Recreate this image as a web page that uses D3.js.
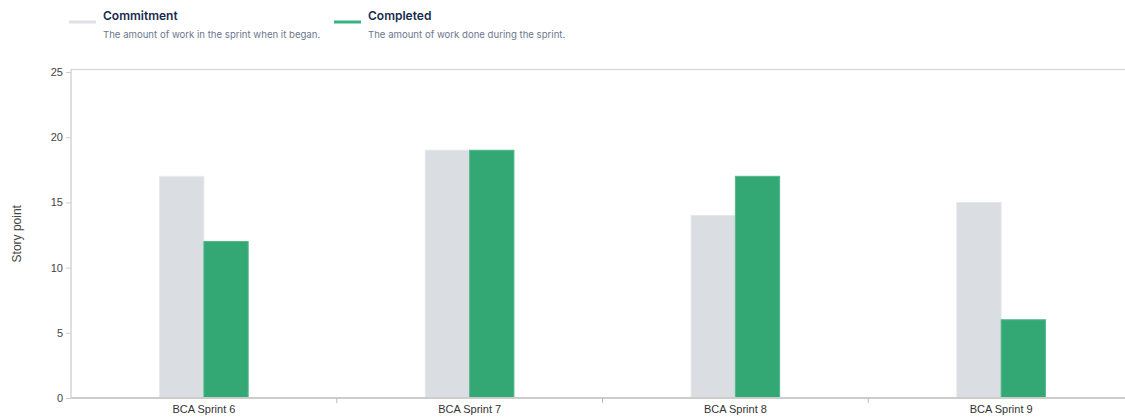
<!DOCTYPE html>
<html><head><meta charset="utf-8">
<script src="https://cdn.jsdelivr.net/npm/d3@7"></script>
<style>
body{margin:0;background:#fff;}
svg{display:block;}
</style></head>
<body>
<svg id="c" width="1125" height="419"></svg>
<script>
const categories = ["BCA Sprint 6","BCA Sprint 7","BCA Sprint 8","BCA Sprint 9"];
const commitment = [17,19,14,15];
const completed = [12,19,17,6];
const yTicks = [0,5,10,15,20,25];
const seriesNames = ["Commitment","Completed"];
const seriesDesc = ["The amount of work in the sprint when it began.","The amount of work done during the sprint."];
const colors = ["#dadde2","#33a874"];

(function(){
const svg = d3.select("#c");
const mLeft = 71, mRight = 1134, mTop = 69.5, mBottom = 398;

const x = d3.scaleBand().domain(categories).range([mLeft, mRight]);
const xs = d3.scaleBand().domain(seriesNames).range([0, x.bandwidth()]).paddingInner(0).paddingOuter(2);
const y = d3.scaleLinear().domain([0,25]).range([mBottom, 72]);

// top frame line
svg.append("line").attr("x1",mLeft).attr("x2",1125).attr("y1",mTop).attr("y2",mTop)
  .attr("stroke","#dcdcdc").attr("stroke-width",1.5);

// bars
const data = categories.map((c,i)=>({c, vals:[commitment[i], completed[i]]}));
const g = svg.append("g");
data.forEach(d=>{
  d.vals.forEach((v,j)=>{
    g.append("rect")
      .attr("x", x(d.c)+xs(seriesNames[j]))
      .attr("width", xs.bandwidth())
      .attr("y", y(v))
      .attr("height", y(0)-y(v))
      .attr("fill", colors[j])
      .attr("stroke", j===0 ? "#e6e8eb" : "#52b98a")
      .attr("stroke-width", 1);
  });
});

// y axis
const ya = svg.append("g").attr("transform",`translate(${mLeft},0)`)
  .call(d3.axisLeft(y).tickValues(yTicks).tickSize(5).tickPadding(3));
ya.select(".domain").attr("stroke","#d4d4d4").attr("stroke-width",1.5).attr("d",`M0,${mTop}V${mBottom}`);
ya.selectAll(".tick line").attr("stroke","#cfcfcf");
ya.selectAll("text").attr("fill","#444").style("font-family","'Liberation Sans', Arial, sans-serif").style("font-size","11px");

// x axis
const xa = svg.append("g").attr("transform",`translate(0,${mBottom})`)
  .call(d3.axisBottom(x).tickSize(0).tickPadding(7));
xa.select(".domain").attr("stroke","#cccccc").attr("stroke-width",2).attr("d",`M${mLeft},0H1125`);
xa.selectAll("text").attr("fill","#333").style("font-family","'Liberation Sans', Arial, sans-serif").style("font-size","11px");
xa.selectAll(".sep").data(categories.slice(1)).enter().append("line")
  .attr("x1",d=>x(d)).attr("x2",d=>x(d)).attr("y1",0).attr("y2",5)
  .attr("stroke","#bbb").attr("stroke-width",1);

// y label
svg.append("text").attr("transform",`translate(21,${(mTop+mBottom)/2}) rotate(-90)`)
  .attr("text-anchor","middle").attr("fill","#444")
  .style("font-family","'Liberation Sans', Arial, sans-serif").style("font-size","12px")
  .text("Story point");

// legend
const legX = [69, 334];
seriesNames.forEach((n,i)=>{
  const lg = svg.append("g").attr("transform",`translate(${legX[i]},0)`);
  lg.append("line").attr("x1",0).attr("x2",27).attr("y1",22).attr("y2",22)
    .attr("stroke", i===0 ? "#dfe1e6" : "#36b37e").attr("stroke-width",3);
  lg.append("text").attr("x",34).attr("y",19.5).text(n)
    .attr("fill","#172b4d").style("font-family","Inter, sans-serif").style("font-size","12px").style("font-weight","600");
  lg.append("text").attr("x",34).attr("y",37.5).text(seriesDesc[i])
    .attr("fill","#6b778c").style("font-family","Inter, sans-serif").style("font-size","9.6px");
});
})();
</script>
</body></html>
